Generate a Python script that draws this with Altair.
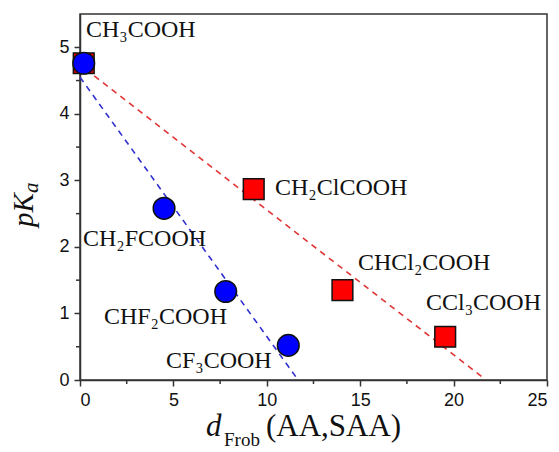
import altair as alt
import pandas as pd

# data
blue_x = [0.2, 4.5, 7.8, 11.15]
blue_y = [4.76, 2.58, 1.33, 0.52]
red_x = [0.2, 9.3, 14.05, 19.55]
red_y = [4.76, 2.87, 1.35, 0.65]

blue_fit_x = [0.0, 11.6]
blue_fit_y = [4.55, 0.03]
red_fit_x = [0.3, 21.6]
red_fit_y = [4.67, 0.03]

labels = ["CH₃COOH", "CH₂ClCOOH", "CHCl₂COOH", "CCl₃COOH", "CH₂FCOOH", "CHF₂COOH", "CF₃COOH"]
label_x = [0.32, 10.44, 14.88, 18.52, 0.16, 1.28, 4.6]
label_y = [5.26, 2.88, 1.76, 1.16, 2.12, 0.95, 0.29]

x_ticks = [0, 5, 10, 15, 20, 25]
y_ticks = [0, 1, 2, 3, 4, 5]
x_minor = [2.5, 7.5, 12.5, 17.5, 22.5]
y_minor = [0.5, 1.5, 2.5, 3.5, 4.5]

W, H = 467, 366

xs = alt.Scale(domain=[0, 25], nice=False)
ys = alt.Scale(domain=[0, 5.5], nice=False)

axis_common = dict(
    labelFont="Liberation Sans", labelFontSize=18, labelColor="#111", format="d",
    domainColor="#333", domainWidth=1.5, tickColor="#333", tickWidth=1.5,
    tickSize=6, grid=False, title=None, labelPadding=5,
)

blue_df = pd.DataFrame({"x": blue_x, "y": blue_y})
red_df = pd.DataFrame({"x": red_x, "y": red_y})
bfit = pd.DataFrame({"x": blue_fit_x, "y": blue_fit_y})
rfit = pd.DataFrame({"x": red_fit_x, "y": red_fit_y})
lab_df = pd.DataFrame({"t": labels, "x": label_x, "y": label_y})

base_axes = alt.Chart(blue_df).mark_point(opacity=0).encode(
    x=alt.X("x:Q", scale=xs, axis=alt.Axis(values=x_ticks, **axis_common)),
    y=alt.Y("y:Q", scale=ys, axis=alt.Axis(values=y_ticks, **axis_common)),
)

bline = alt.Chart(bfit).mark_line(color="#3030d0", strokeDash=[6, 5], strokeWidth=1.6).encode(
    x=alt.X("x:Q", scale=xs), y=alt.Y("y:Q", scale=ys))
rline = alt.Chart(rfit).mark_line(color="#e03535", strokeDash=[6, 5], strokeWidth=1.6).encode(
    x=alt.X("x:Q", scale=xs), y=alt.Y("y:Q", scale=ys))

squares = alt.Chart(red_df).mark_point(shape="square", filled=True, fill="#ff0000",
                                       stroke="#111", strokeWidth=1.5, size=430, opacity=1).encode(
    x=alt.X("x:Q", scale=xs), y=alt.Y("y:Q", scale=ys))
circles = alt.Chart(blue_df).mark_point(shape="circle", filled=True, fill="#0000ff",
                                        stroke="#111", strokeWidth=1.5, size=470, opacity=1).encode(
    x=alt.X("x:Q", scale=xs), y=alt.Y("y:Q", scale=ys))

texts = alt.Chart(lab_df).mark_text(align="left", baseline="middle", font="Liberation Serif",
                                    fontSize=24, color="#111").encode(
    x=alt.X("x:Q", scale=xs), y=alt.Y("y:Q", scale=ys), text="t:N")

xminor_df = pd.DataFrame({"x": x_minor})
yminor_df = pd.DataFrame({"y": y_minor})
xminor = alt.Chart(xminor_df).mark_rule(color="#333", strokeWidth=1.5).encode(
    x=alt.X("x:Q", scale=xs), y=alt.value(H), y2=alt.value(H + 4))
yminor = alt.Chart(yminor_df).mark_rule(color="#333", strokeWidth=1.5).encode(
    y=alt.Y("y:Q", scale=ys), x=alt.value(-4), x2=alt.value(0))

# axis titles
tdf = pd.DataFrame({"a": [0]})
t_d = alt.Chart(tdf).mark_text(text="d", font="Liberation Serif", fontStyle="italic",
                               fontSize=31, align="left", baseline="alphabetic", color="#111").encode(
    x=alt.value(126), y=alt.value(H + 56))
t_frob = alt.Chart(tdf).mark_text(text="Frob", font="Liberation Serif", fontSize=19,
                                  align="left", baseline="alphabetic", color="#111").encode(
    x=alt.value(144), y=alt.value(H + 66))
t_aa = alt.Chart(tdf).mark_text(text="(AA,SAA)", font="Liberation Serif", fontSize=31,
                                align="left", baseline="alphabetic", color="#111").encode(
    x=alt.value(186), y=alt.value(H + 56))
t_pk = alt.Chart(tdf).mark_text(text="pK", font="Liberation Serif", fontStyle="italic",
                                fontSize=29, align="left", baseline="alphabetic", angle=270,
                                color="#111").encode(
    x=alt.value(-47), y=alt.value(213))
t_a = alt.Chart(tdf).mark_text(text="a", font="Liberation Serif", fontStyle="italic",
                               fontSize=21, align="left", baseline="alphabetic", angle=270,
                               color="#111").encode(
    x=alt.value(-42), y=alt.value(179))

chart = alt.layer(
    base_axes, xminor, yminor, bline, rline, squares, circles, texts,
    t_d, t_frob, t_aa, t_pk, t_a,
).properties(
    width=W, height=H,
    autosize=alt.AutoSizeParams(type="none"),
    padding={"left": 80, "top": 14, "right": 12, "bottom": 72},
    background="white",
).configure_view(stroke="#333", strokeWidth=1.5)

chart.save("out.html", embed_options={"renderer": "svg", "actions": False})
